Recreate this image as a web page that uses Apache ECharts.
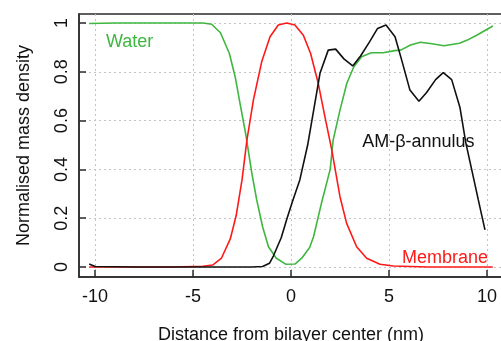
<!DOCTYPE html>
<html>
<head>
<meta charset="utf-8">
<script src="https://cdn.jsdelivr.net/npm/echarts@6/dist/echarts.min.js"></script>
<style>
  html, body { margin: 0; padding: 0; background: #fff; }
  #chart { width: 501px; height: 341px; }
</style>
</head>
<body>
<div id="chart"></div>
<script>
// profiles (distance in nm, normalised density)
const waterX = [-10.3, -9.0, -8.0, -7.0, -6.0, -5.0, -4.5, -4.05, -3.6, -3.15, -2.85, -2.6, -2.3, -2.0, -1.75, -1.45, -1.15, -0.75, -0.25, 0.2, 0.55, 0.95, 1.15, 1.55, 2.0, 2.15, 2.5, 2.85, 3.2, 3.6, 4.1, 4.7, 5.3, 5.6, 6.1, 6.6, 7.2, 7.8, 8.6, 9.0, 9.5, 10.3];
const waterY = [0.998, 1.0, 1.0, 1.0, 1.0, 1.0, 1.0, 0.995, 0.96, 0.876, 0.78, 0.67, 0.54, 0.385, 0.275, 0.165, 0.083, 0.036, 0.011, 0.012, 0.036, 0.08, 0.124, 0.26, 0.40, 0.52, 0.643, 0.753, 0.82, 0.862, 0.878, 0.878, 0.887, 0.889, 0.91, 0.921, 0.915, 0.907, 0.917, 0.93, 0.951, 0.988];

const membraneX = [-10.3, -8.0, -6.0, -4.5, -4.0, -3.55, -3.1, -2.8, -2.5, -2.25, -1.92, -1.5, -1.07, -0.65, -0.22, 0.2, 0.63, 1.0, 1.39, 1.73, 2.08, 2.5, 2.84, 3.35, 3.86, 4.54, 5.22, 7.0, 9.0, 10.3];
const membraneY = [0, 0, 0, 0.003, 0.008, 0.036, 0.115, 0.21, 0.357, 0.52, 0.684, 0.84, 0.944, 0.992, 1.0, 0.992, 0.95, 0.875, 0.753, 0.616, 0.48, 0.288, 0.179, 0.083, 0.036, 0.011, 0.004, 0, 0, 0];

const annulusX = [-10.3, -10.0, -8.0, -6.0, -4.0, -2.0, -1.45, -1.1, -0.9, -0.5, -0.2, 0.1, 0.45, 0.85, 1.48, 1.9, 2.28, 2.7, 3.15, 3.55, 4.0, 4.42, 4.85, 5.31, 5.65, 6.07, 6.53, 6.92, 7.38, 7.77, 8.2, 8.62, 8.92, 9.22, 9.56, 9.9];
const annulusY = [0.012, 0.002, 0, 0, 0, 0, 0.002, 0.015, 0.045, 0.12, 0.2, 0.275, 0.357, 0.5, 0.794, 0.889, 0.893, 0.853, 0.824, 0.865, 0.922, 0.978, 0.992, 0.944, 0.848, 0.725, 0.679, 0.715, 0.768, 0.797, 0.768, 0.655, 0.51, 0.4, 0.275, 0.152];

const xTicks = [-10, -5, 0, 5, 10];
const yTicks = [0, 0.2, 0.4, 0.6, 0.8, 1];

// curve labels, placed in data coordinates
const labelText = ["Water", "Membrane", "AM-β-annulus"];
const labelAt = [[-8.24, 0.923], [7.86, 0.036], [6.5, 0.514]];

const FONT = "'Liberation Sans', Arial, Helvetica, sans-serif";
const pairs = (xs, ys) => xs.map((x, i) => [x, ys[i]]);

const chart = echarts.init(document.getElementById("chart"), null, { renderer: "canvas" });

function curve(name, xs, ys, color, idx) {
  return {
    name: name,
    type: "line",
    data: pairs(xs, ys),
    showSymbol: false,
    symbol: "none",
    lineStyle: { color: color, width: 1.6 },
    itemStyle: { color: color },
    silent: true,
    markPoint: {
      symbol: "circle",
      symbolSize: 1,
      itemStyle: { color: "rgba(0,0,0,0)" },
      label: { show: true, position: "inside", formatter: labelText[idx], color: color, fontSize: 18, fontFamily: FONT },
      data: [{ coord: labelAt[idx] }]
    }
  };
}

const grid = { color: "#c4c4c4", type: [2, 3], width: 1 };
const frame = "#2b2b2b";

const option = {
  animation: false,
  backgroundColor: "#fff",
  grid: {
    left: 79, top: 14, width: 424, height: 263,
    containLabel: false, outerBoundsMode: "none",
    show: true, borderColor: frame, borderWidth: 1.5, backgroundColor: "transparent"
  },
  xAxis: {
    type: "value",
    min: -10.82, max: 10.82,
    name: "Distance from bilayer center (nm)",
    nameLocation: "middle",
    nameGap: 49,
    nameTextStyle: { color: "#111", fontSize: 18, fontFamily: FONT },
    axisLine: { show: true, onZero: false, lineStyle: { color: frame, width: 1.5 } },
    axisTick: { show: true, inside: true, length: 7, customValues: xTicks, lineStyle: { color: frame, width: 1.5 } },
    axisLabel: { customValues: xTicks, margin: 11, color: "#111", fontSize: 18, fontFamily: FONT, formatter: v => String(v) },
    splitLine: { show: true, lineStyle: grid }
  },
  yAxis: {
    type: "value",
    min: -0.041, max: 1.037,
    name: "Normalised mass density",
    nameLocation: "middle",
    nameGap: 46,
    nameTextStyle: { color: "#111", fontSize: 18, fontFamily: FONT },
    axisLine: { show: true, onZero: false, lineStyle: { color: frame, width: 1.5 } },
    axisTick: { show: true, inside: true, length: 7, customValues: yTicks, lineStyle: { color: frame, width: 1.5 } },
    axisLabel: { customValues: yTicks, rotate: 90, margin: 8, color: "#111", fontSize: 18, fontFamily: FONT, formatter: v => String(v) },
    splitLine: { show: true, lineStyle: grid }
  },
  series: [
    curve("Water", waterX, waterY, "#3fb63f", 0),
    curve("Membrane", membraneX, membraneY, "#ff1a1a", 1),
    curve("AM-β-annulus", annulusX, annulusY, "#111111", 2)
  ]
};

chart.setOption(option);
</script>
</body>
</html>
